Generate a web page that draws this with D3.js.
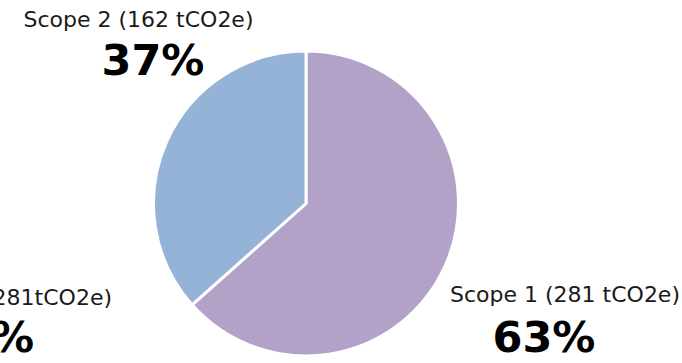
<!DOCTYPE html>
<html>
<head>
<meta charset="utf-8">
<script src="https://cdn.jsdelivr.net/npm/d3@7"></script>
<style>
  html, body { margin: 0; padding: 0; background: #fff; overflow: hidden; }
  svg { display: block; }
  .name { font-family: "DejaVu Sans", "Noto Sans", sans-serif; font-weight: 400; font-size: 22px; fill: #1a1a1a; }
  .pct { font-family: "DejaVu Sans", "Noto Sans", sans-serif; font-weight: 700; font-size: 43px; fill: #000; }
</style>
</head>
<body>
<svg id="chart" width="682" height="363"></svg>
<script>
// Emissions by scope (tCO2e)
const categories = ["Scope 1", "Scope 2"];
const emissions = [281, 162];
const colors = ["#B3A2C7", "#95B3D7"];

// Label text and placement for each scope
const labelNames = ["Scope 1 (281 tCO2e)", "Scope 2 (162 tCO2e)"];
const labelPos = [
  { x: 565, y1: 302, px: 544, y2: 352 },
  { x: 138.5, y1: 27, px: 153, y2: 75 }
];

const svg = d3.select("#chart");
const cx = 306, cy = 203.5, r = 152.5;

const total = d3.sum(emissions);
const pie = d3.pie().sort(null).value(d => d)(emissions);
const arc = d3.arc().innerRadius(0).outerRadius(r);

const g = svg.append("g").attr("transform", `translate(${cx},${cy})`);
g.selectAll("path")
  .data(pie)
  .join("path")
  .attr("d", arc)
  .attr("fill", (d, i) => colors[i])
  .attr("stroke", "#fff")
  .attr("stroke-width", 3)
  .attr("stroke-linejoin", "round");

const fmt = v => Math.round(v / total * 100) + "%";

const labels = svg.selectAll("g.label")
  .data(emissions)
  .join("g")
  .attr("class", "label");

labels.append("text")
  .attr("class", "name")
  .attr("x", (d, i) => labelPos[i].x)
  .attr("y", (d, i) => labelPos[i].y1)
  .attr("text-anchor", "middle")
  .text((d, i) => labelNames[i]);

labels.append("text")
  .attr("class", "pct")
  .attr("x", (d, i) => labelPos[i].px)
  .attr("y", (d, i) => labelPos[i].y2)
  .attr("text-anchor", "middle")
  .text(d => fmt(d));

// Leftover duplicate label sitting partly outside the frame
const ghost = svg.append("g");
ghost.append("text")
  .attr("class", "name")
  .attr("x", 112)
  .attr("y", 305)
  .attr("text-anchor", "end")
  .text("Scope 1 (281tCO2e)");
ghost.append("text")
  .attr("class", "pct")
  .attr("x", 34)
  .attr("y", 352)
  .attr("text-anchor", "end")
  .text(fmt(emissions[0]));
</script>
</body>
</html>
